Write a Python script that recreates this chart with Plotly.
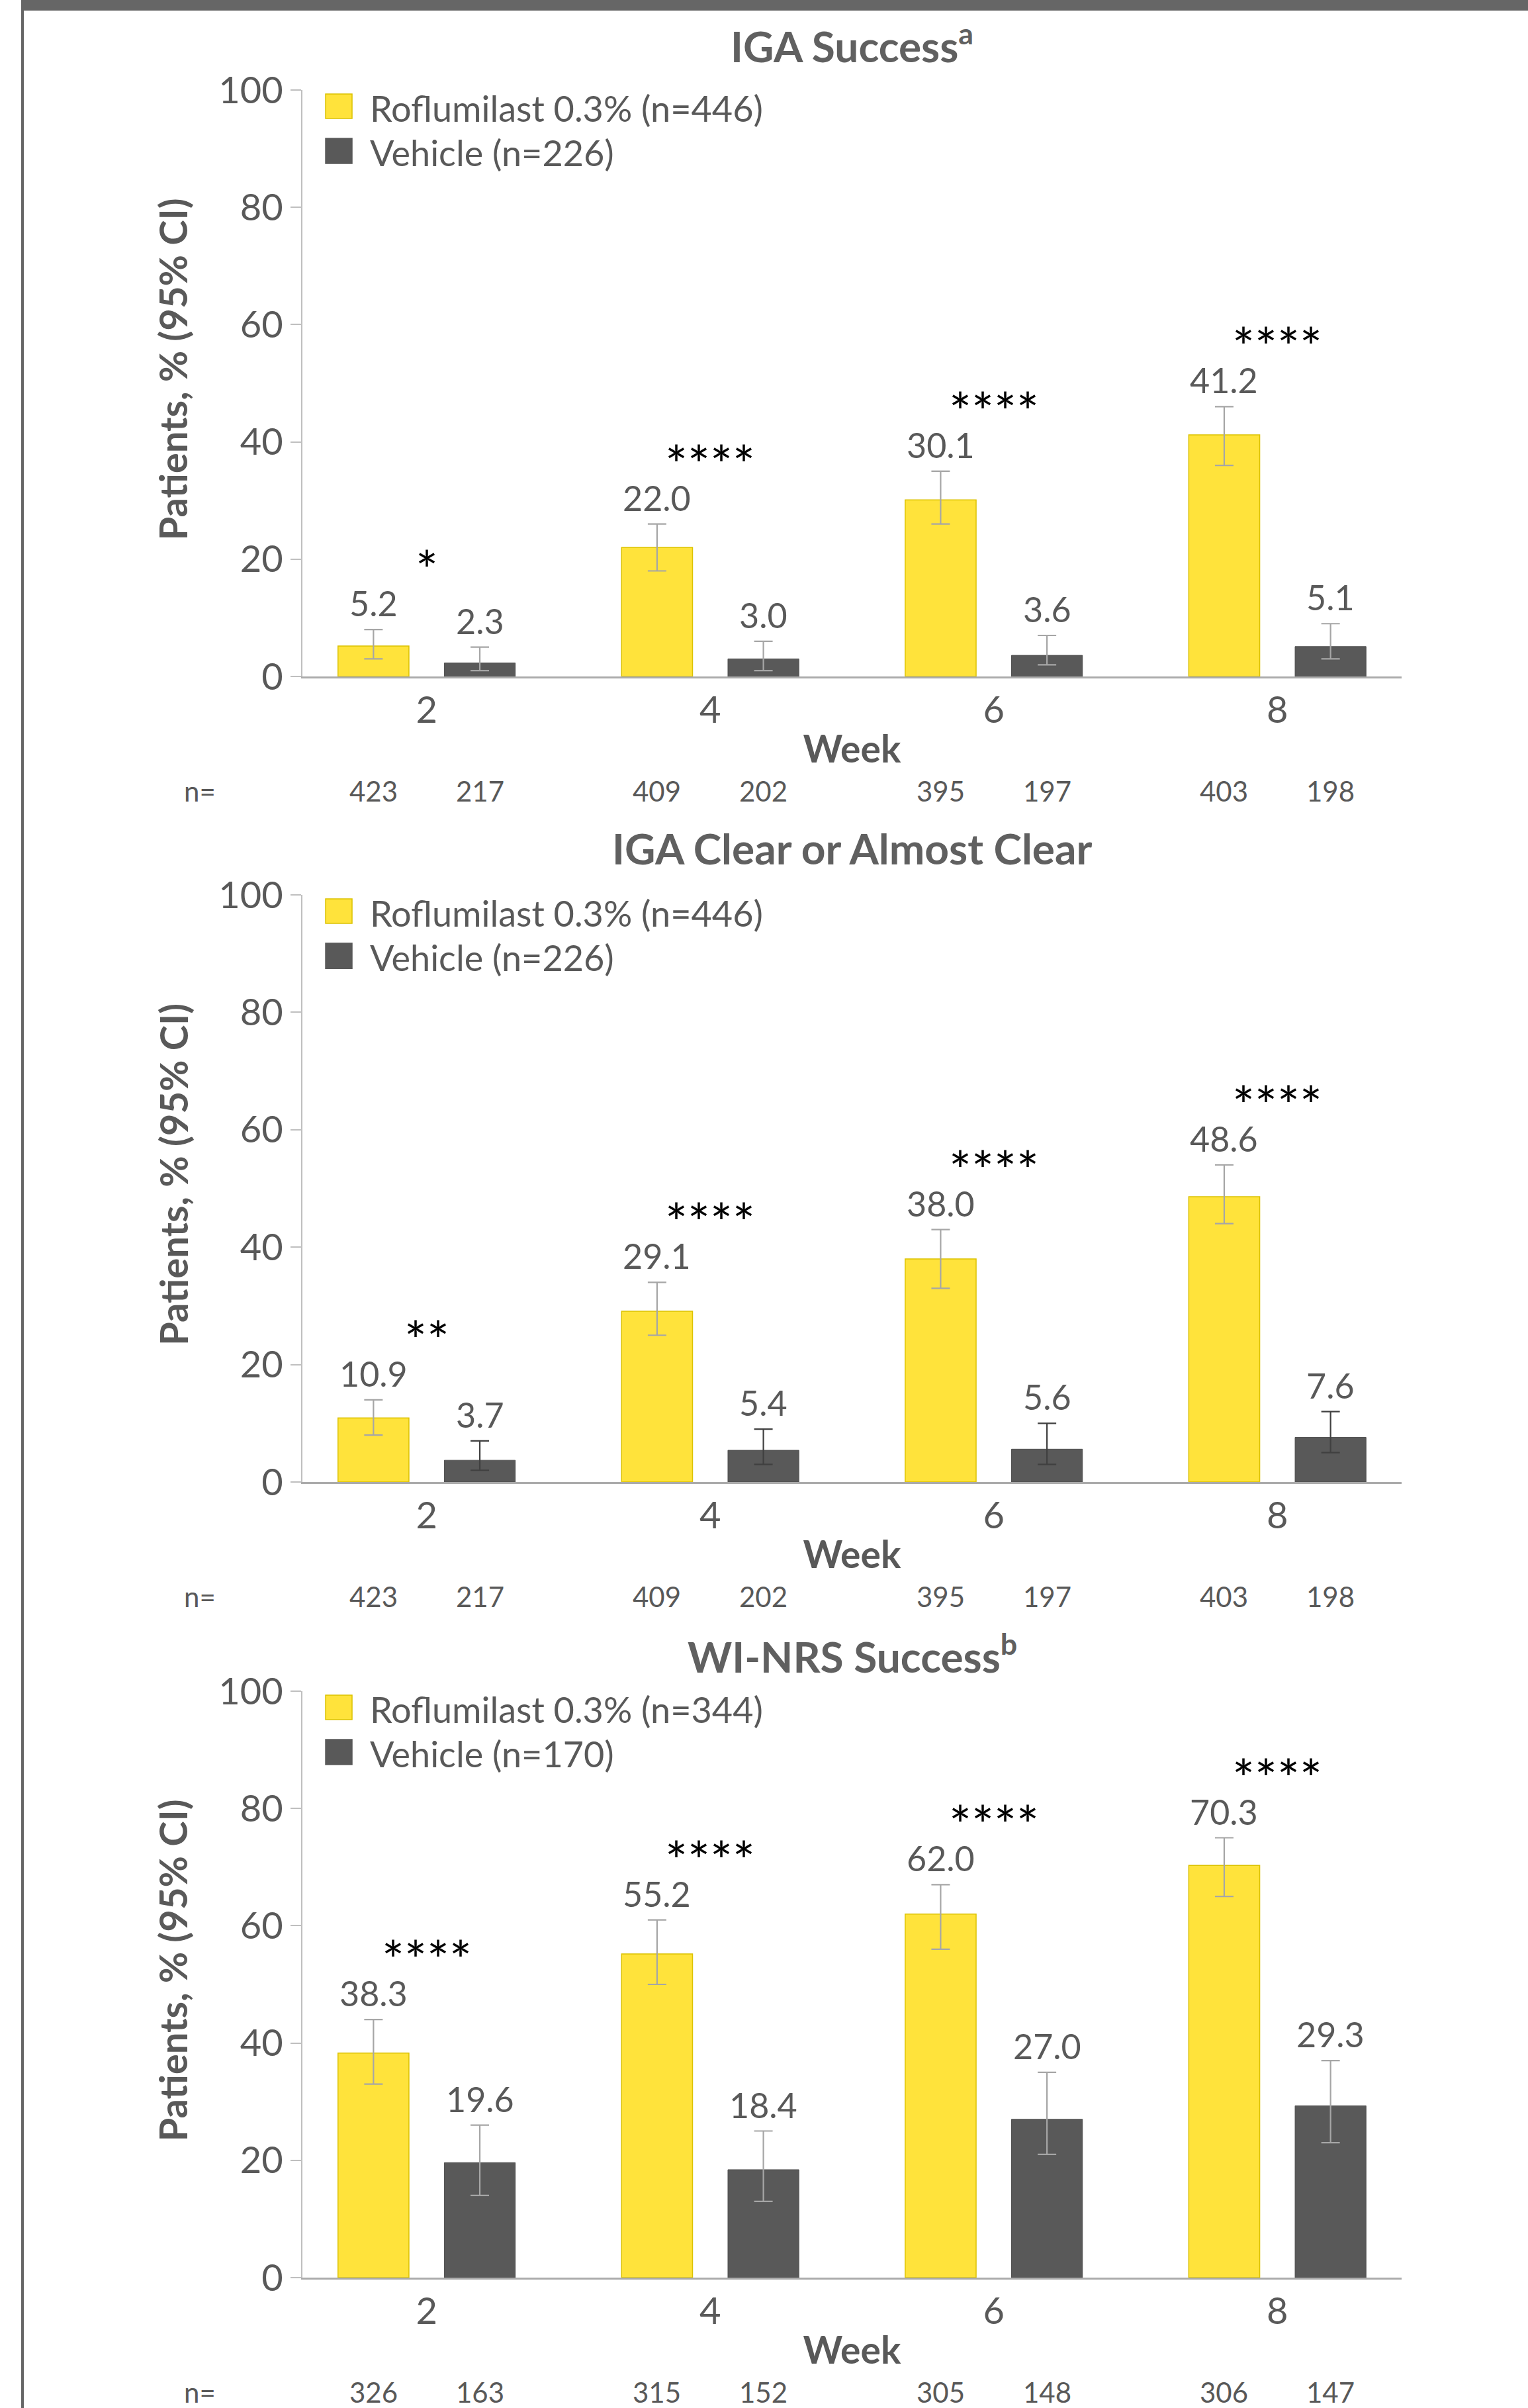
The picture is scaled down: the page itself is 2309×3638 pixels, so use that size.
import plotly.graph_objects as go

# ---------------- data ----------------
weeks = ["2", "4", "6", "8"]

titles = ["IGA Success<sup>a</sup>", "IGA Clear or Almost Clear", "WI-NRS Success<sup>b</sup>"]
legend_rof = ["Roflumilast 0.3% (n=446)", "Roflumilast 0.3% (n=446)", "Roflumilast 0.3% (n=344)"]
legend_veh = ["Vehicle (n=226)", "Vehicle (n=226)", "Vehicle (n=170)"]
y_title = "Patients, % (95% CI)"
x_title = "Week"

# Panel 1: IGA Success
iga_rof = [5.2, 22.0, 30.1, 41.2]
iga_rof_lo = [3.0, 18.0, 26.0, 36.0]
iga_rof_hi = [8.0, 26.0, 35.0, 46.0]
iga_veh = [2.3, 3.0, 3.6, 5.1]
iga_veh_lo = [1.0, 1.0, 2.0, 3.0]
iga_veh_hi = [5.0, 6.0, 7.0, 9.0]
iga_sig = ["*", "****", "****", "****"]
iga_n_rof = [423, 409, 395, 403]
iga_n_veh = [217, 202, 197, 198]

# Panel 2: IGA Clear or Almost Clear
clr_rof = [10.9, 29.1, 38.0, 48.6]
clr_rof_lo = [8.0, 25.0, 33.0, 44.0]
clr_rof_hi = [14.0, 34.0, 43.0, 54.0]
clr_veh = [3.7, 5.4, 5.6, 7.6]
clr_veh_lo = [2.0, 3.0, 3.0, 5.0]
clr_veh_hi = [7.0, 9.0, 10.0, 12.0]
clr_sig = ["**", "****", "****", "****"]
clr_n_rof = [423, 409, 395, 403]
clr_n_veh = [217, 202, 197, 198]

# Panel 3: WI-NRS Success
wi_rof = [38.3, 55.2, 62.0, 70.3]
wi_rof_lo = [33.0, 50.0, 56.0, 65.0]
wi_rof_hi = [44.0, 61.0, 67.0, 75.0]
wi_veh = [19.6, 18.4, 27.0, 29.3]
wi_veh_lo = [14.0, 13.0, 21.0, 23.0]
wi_veh_hi = [26.0, 25.0, 35.0, 37.0]
wi_sig = ["****", "****", "****", "****"]
wi_n_rof = [326, 315, 305, 306]
wi_n_veh = [163, 152, 148, 147]

y_ticks = [0, 20, 40, 60, 80, 100]

# ---------------- style ----------------
W, H = 2309, 3638
YELLOW = "#FFE33B"
YELLOW_EDGE = "#DCC200"
DARK = "#595959"
TXT = "#595959"
AXC = "#BFBFBF"
ERR = "#A6A6A6"
FONT = "Lato"

def py(px):  # pixel row -> paper y
    return 1 - px / H

def pxx(px):
    return px / W

x_dom = [pxx(457), pxx(2118)]
panels_px = [(136, 1022), (1352, 2239), (2555, 3441)]  # (top=100, bottom=0)
title_px = [66, 1281, 2498]

panels = [
    dict(rof=iga_rof, lo=iga_rof_lo, hi=iga_rof_hi, veh=iga_veh, vlo=iga_veh_lo, vhi=iga_veh_hi,
         sig=iga_sig, nr=iga_n_rof, nv=iga_n_veh, verr=ERR),
    dict(rof=clr_rof, lo=clr_rof_lo, hi=clr_rof_hi, veh=clr_veh, vlo=clr_veh_lo, vhi=clr_veh_hi,
         sig=clr_sig, nr=clr_n_rof, nv=clr_n_veh, verr="#404040"),
    dict(rof=wi_rof, lo=wi_rof_lo, hi=wi_rof_hi, veh=wi_veh, vlo=wi_veh_lo, vhi=wi_veh_hi,
         sig=wi_sig, nr=wi_n_rof, nv=wi_n_veh, verr=ERR),
]

OFF = 0.1875  # half slot offset of grouped bars (bargap .25)

fig = go.Figure()
annotations = []
shapes = []

for k, p in enumerate(panels):
    sfx = "" if k == 0 else str(k + 1)
    xa, ya = "x" + sfx, "y" + sfx
    fig.add_trace(go.Bar(
        x=weeks, y=p["rof"], name=legend_rof[k], xaxis=xa, yaxis=ya, showlegend=False,
        marker=dict(color=YELLOW, line=dict(color=YELLOW_EDGE, width=1.5)),
        error_y=dict(type="data", symmetric=False,
                     array=[h - v for h, v in zip(p["hi"], p["rof"])],
                     arrayminus=[v - l for v, l in zip(p["rof"], p["lo"])],
                     color=ERR, thickness=2.2, width=14),
    ))
    fig.add_trace(go.Bar(
        x=weeks, y=p["veh"], name=legend_veh[k], xaxis=xa, yaxis=ya, showlegend=False,
        marker=dict(color=DARK, line=dict(color="#4F4F4F", width=1)),
        error_y=dict(type="data", symmetric=False,
                     array=[h - v for h, v in zip(p["vhi"], p["veh"])],
                     arrayminus=[v - l for v, l in zip(p["veh"], p["vlo"])],
                     color=p["verr"], thickness=2.2, width=14),
    ))
    top, bot = panels_px[k]
    fig.update_layout(**{
        "xaxis" + sfx: dict(
            domain=x_dom, anchor=ya, type="category", range=[-0.438, 3.438], automargin=False,
            showline=True, linecolor="#ABABAB", linewidth=3, showgrid=False, zeroline=False,
            ticks="", tickfont=dict(size=56, color=TXT, family=FONT),
            title=dict(text=x_title, font=dict(size=57, color=TXT, family=FONT, weight="bold"), standoff=9),
        ),
        "yaxis" + sfx: dict(
            domain=[py(bot), py(top)], anchor=xa, range=[0, 100], tickvals=y_ticks, automargin=False,
            showline=True, linecolor=AXC, linewidth=2, showgrid=False, zeroline=False,
            ticks="outside", ticklen=16, tickcolor=AXC, tickwidth=2,
            tickfont=dict(size=56, color=TXT, family=FONT),
        ),
    })

    # y-axis title (placed like the original, slightly above centre)
    annotations.append(dict(text=y_title, xref=xa + " domain", yref=ya + " domain",
                            x=(261 - 457) / 1661, y=0.523, textangle=-90,
                            xanchor="center", yanchor="middle", showarrow=False,
                            font=dict(size=58, color=TXT, family=FONT, weight="bold")))

    # panel title
    annotations.append(dict(text=titles[k], xref=xa + " domain", yref="paper", x=0.5, y=py(title_px[k]),
                            xanchor="center", yanchor="middle", showarrow=False,
                            font=dict(size=64, color="#606060", family=FONT, weight="bold")))

    # value labels above CIs + significance marks
    for i in range(4):
        annotations.append(dict(text=f"{p['rof'][i]:.1f}", xref=xa, yref=ya, x=i - OFF, y=p["hi"][i],
                                xanchor="center", yanchor="middle", yshift=40, showarrow=False,
                                font=dict(size=52, color=TXT, family=FONT)))
        annotations.append(dict(text=f"{p['veh'][i]:.1f}", xref=xa, yref=ya, x=i + OFF, y=p["vhi"][i],
                                xanchor="center", yanchor="middle", yshift=40, showarrow=False,
                                font=dict(size=52, color=TXT, family=FONT)))
        annotations.append(dict(text=p["sig"][i], xref=xa, yref=ya, x=i, y=p["hi"][i],
                                xanchor="center", yanchor="middle", yshift=92, showarrow=False,
                                font=dict(size=80, color="#000000", family=FONT)))
        # n row
        for val, off in ((p["nr"][i], -OFF), (p["nv"][i], OFF)):
            annotations.append(dict(text=str(val), xref=xa, yref=ya + " domain", x=i + off,
                                    y=-173 / 886, xanchor="center", yanchor="middle", showarrow=False,
                                    font=dict(size=42, color=TXT, family=FONT)))
    annotations.append(dict(text="n=", xref=xa + " domain", yref=ya + " domain", x=(302 - 457) / 1661,
                            y=-173 / 886, xanchor="center", yanchor="middle", showarrow=False,
                            font=dict(size=42, color=TXT, family=FONT)))

    # custom legend
    sw = [(142, 179, YELLOW, YELLOW_EDGE, legend_rof[k], 163), (209, 247, DARK, DARK, legend_veh[k], 230)]
    for (y0, y1, fc, lc, lab, yc) in sw:
        shapes.append(dict(type="rect", xref=xa + " domain", yref=ya + " domain",
                           x0=(492 - 457) / 1661, x1=(532 - 457) / 1661,
                           y0=1 - (y1 - 136) / 886, y1=1 - (y0 - 136) / 886,
                           fillcolor=fc, line=dict(color=lc, width=1.5)))
        annotations.append(dict(text=lab, xref=xa + " domain", yref=ya + " domain",
                                x=(557 - 457) / 1661, y=1 - (yc - 136) / 886,
                                xanchor="left", yanchor="middle", showarrow=False,
                                font=dict(size=54, color=TXT, family=FONT)))

# frame decoration
shapes.append(dict(type="rect", xref="paper", yref="paper", x0=pxx(33), x1=1, y0=py(16), y1=1,
                   fillcolor="#666666", line=dict(width=0), layer="above"))
shapes.append(dict(type="rect", xref="paper", yref="paper", x0=pxx(32), x1=pxx(36), y0=0, y1=1,
                   fillcolor="#666666", line=dict(width=0), layer="above"))

fig.update_layout(
    width=W, height=H, margin=dict(l=0, r=0, t=0, b=0, autoexpand=False),
    paper_bgcolor="white", plot_bgcolor="white",
    barmode="group", bargap=0.25, bargroupgap=0.333,
    font=dict(family=FONT, color=TXT),
    annotations=annotations, shapes=shapes, showlegend=False,
)

fig.write_html("out.html", config={"displayModeBar": False},
               post_script="document.body.style.margin='0';document.body.style.overflow='hidden';")
